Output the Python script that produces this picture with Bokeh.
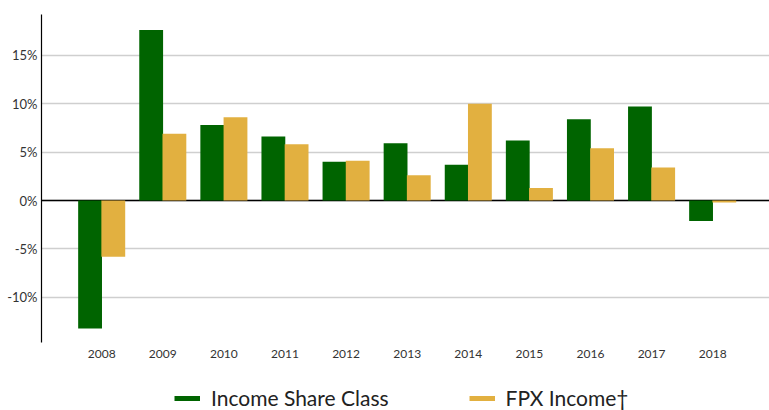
from bokeh.plotting import figure
from bokeh.models import (ColumnDataSource, Range1d, FixedTicker, PrintfTickFormatter,
                          Span, Legend, LegendItem)
from bokeh.layouts import column
from bokeh.embed import file_html
from bokeh.resources import INLINE

years = ["2008", "2009", "2010", "2011", "2012", "2013", "2014", "2015", "2016", "2017", "2018"]
income_share_class = [-13.2, 17.6, 7.8, 6.6, 4.0, 5.9, 3.7, 6.2, 8.4, 9.7, -2.1]
fpx_income = [-5.8, 6.9, 8.6, 5.8, 4.1, 2.6, 10.0, 1.3, 5.4, 3.4, -0.2]
y_ticks = [-10, -5, 0, 5, 10, 15]
series_names = ["Income Share Class", "FPX Income\u2020"]

GREEN = "#006400"
GOLD = "#E2B040"

idx = list(range(len(years)))
src = ColumnDataSource(dict(
    x_g=[i - 0.19 for i in idx],
    x_o=[i + 0.19 for i in idx],
    g=income_share_class,
    o=fpx_income,
))

p = figure(width=769, height=366, output_backend="svg", toolbar_location=None,
           x_range=Range1d(-0.985, 10.93), y_range=Range1d(-14.65, 19.2),
           min_border_left=41, min_border_right=0, min_border_top=14, min_border_bottom=24)
p.outline_line_color = None

zero = Span(location=0, dimension="width", line_color="black", line_width=1.5, level="underlay")
p.add_layout(zero)

p.vbar(x="x_g", top="g", bottom=0, width=0.39, source=src, fill_color=GREEN, line_color=None)
p.vbar(x="x_o", top="o", bottom=0, width=0.39, source=src, fill_color=GOLD, line_color=None)

# axes
p.xaxis.ticker = FixedTicker(ticks=idx)
p.xaxis.major_label_overrides = {i: y for i, y in zip(idx, years)}
p.xaxis.axis_line_color = None
p.xaxis.major_tick_line_color = None
p.xaxis.major_tick_out = 0
p.xaxis.major_tick_in = 0
p.xaxis.minor_tick_line_color = None
p.xaxis.major_label_standoff = 7
p.xaxis.major_label_text_font = "Lato"
p.xaxis.major_label_text_font_size = "12px"
p.xaxis.major_label_text_color = "#333333"
p.xgrid.grid_line_color = None

p.yaxis.ticker = FixedTicker(ticks=y_ticks)
p.yaxis.formatter = PrintfTickFormatter(format="%d%%")
p.yaxis.axis_line_color = "black"
p.yaxis.axis_line_width = 1.2
p.yaxis.major_tick_line_color = None
p.yaxis.major_tick_out = 0
p.yaxis.major_tick_in = 0
p.yaxis.minor_tick_line_color = None
p.yaxis.major_label_standoff = 4
p.yaxis.major_label_text_font = "Lato"
p.yaxis.major_label_text_font_size = "13px"
p.yaxis.major_label_text_color = "#333333"
p.ygrid.grid_line_color = "#cfcfcf"
p.ygrid.grid_line_width = 1.5

# legend strip (its frame is aligned with the main plot's frame by the column)
q = figure(width=769, height=44, output_backend="svg", toolbar_location=None,
           x_range=Range1d(0, 1), y_range=Range1d(0, 1),
           min_border=0, min_border_left=0, min_border_right=0,
           min_border_top=0, min_border_bottom=0)
q.axis.visible = False
q.grid.visible = False
q.outline_line_color = None
# proxy renderers (kept outside the visible range) for the legend glyphs
lg = q.line(x=[-5, -4], y=[-5, -5], line_color=GREEN, line_width=5)
lo = q.line(x=[-5, -4], y=[-5, -5], line_color=GOLD, line_width=5)

legend = Legend(items=[LegendItem(label=series_names[0], renderers=[lg]),
                       LegendItem(label=series_names[1], renderers=[lo])],
                location=(133, 0), orientation="horizontal",
                glyph_width=26, glyph_height=24, label_height=24,
                label_standoff=11, spacing=80, padding=0, margin=0,
                border_line_color=None, background_fill_alpha=0,
                label_text_font="Lato", label_text_font_size="21px",
                label_text_color="#222222")
q.add_layout(legend, "center")

layout = column(p, q, spacing=0)
open("out.html", "w").write(file_html(layout, INLINE))
